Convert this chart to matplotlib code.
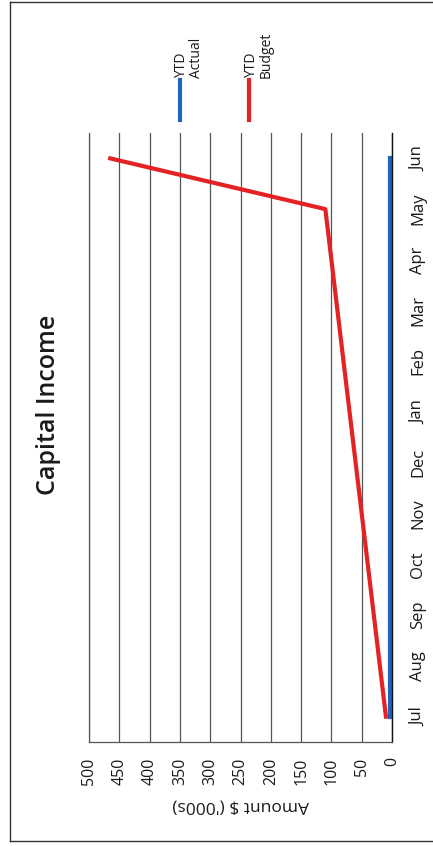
import numpy as np
import matplotlib
matplotlib.use('Agg')
from matplotlib import pyplot as plt, lines

plt.rcParams['font.family'] = ['Open Sans', 'DejaVu Sans']

months = ['Jul', 'Aug', 'Sep', 'Oct', 'Nov', 'Dec', 'Jan', 'Feb', 'Mar', 'Apr', 'May', 'Jun']
ytd_actual = [4, 4, 4, 4, 4, 4, 4, 4, 4, 4, 4, 4]
ytd_budget = [10, 20, 30, 40, 50, 60, 70, 80, 90, 100, 110, 465]
amount_ticks = [0, 50, 100, 150, 200, 250, 300, 350, 400, 450, 500]

blue = '#1f64c0'
red = '#e42224'
grid_col = '#555555'
txt_col = '#1a1a1a'

W, H = 433, 846
fig = plt.figure(figsize=(W / 100, H / 100), dpi=100)

# chart is a scanned page turned on its side: amount runs right-to-left, months bottom-to-top
ax = fig.add_axes([89 / W, (H - 742) / H, (392 - 89) / W, (742 - 133) / H])
ypos = np.arange(len(months))
ax.plot(ytd_actual, ypos, color=blue, linewidth=3)
ax.plot(ytd_budget, ypos, color=red, linewidth=3)

ax.set_xlim(500, 0)
ax.set_ylim(-0.5, len(months) - 0.5)
ax.set_xticks(amount_ticks)
ax.set_xticklabels([str(v) for v in amount_ticks])
ax.tick_params(axis='x', length=0, pad=11, labelrotation=90, labelsize=11.5, labelcolor=txt_col)
ax.xaxis.grid(True, color=grid_col, linewidth=0.9)
ax.set_axisbelow(True)

ax.yaxis.tick_right()
ax.set_yticks(ypos)
ax.set_yticklabels(months)
ax.tick_params(axis='y', length=0, pad=13, labelrotation=90, labelsize=12, labelcolor=txt_col)
for lab in ax.get_yticklabels():
    lab.set_va('center')

ax.spines['top'].set_visible(False)
ax.spines['left'].set_color(grid_col)
ax.spines['left'].set_linewidth(0.9)
ax.spines['bottom'].set_color(grid_col)
ax.spines['bottom'].set_linewidth(0.9)
ax.spines['right'].set_color('#111111')
ax.spines['right'].set_linewidth(1.0)

ax.set_xlabel("Amount $ ('000s)", rotation=180, fontsize=12.5, labelpad=9, color=txt_col)

fig.text(49 / W, (H - 405) / H, 'Capital Income', rotation=90, ha='center', va='center',
         fontsize=18, fontweight='semibold', color=txt_col)

# legend, drawn by hand because it is turned too
for x_line, x_txt, col, txt in [(180, 189, blue, 'YTD\nActual'), (249, 259, red, 'YTD\nBudget')]:
    fig.add_artist(lines.Line2D([x_line / W, x_line / W], [(H - 80) / H, (H - 120) / H],
                                color=col, linewidth=3, transform=fig.transFigure))
    fig.text(x_txt / W, (H - 78) / H, txt, rotation=90, ha='center', va='bottom',
             multialignment='left', fontsize=10, color=txt_col, linespacing=1.0)

# page frame
fcol = '#333333'
fig.add_artist(lines.Line2D([10 / W, 10 / W], [(H - 2) / H, (H - 841) / H], color=fcol, linewidth=1))
fig.add_artist(lines.Line2D([10 / W, 1], [(H - 2) / H, (H - 2) / H], color=fcol, linewidth=1))
fig.add_artist(lines.Line2D([10 / W, 1], [(H - 841) / H, (H - 841) / H], color=fcol, linewidth=1))

fig.savefig('out.png', dpi=100, facecolor='white')
